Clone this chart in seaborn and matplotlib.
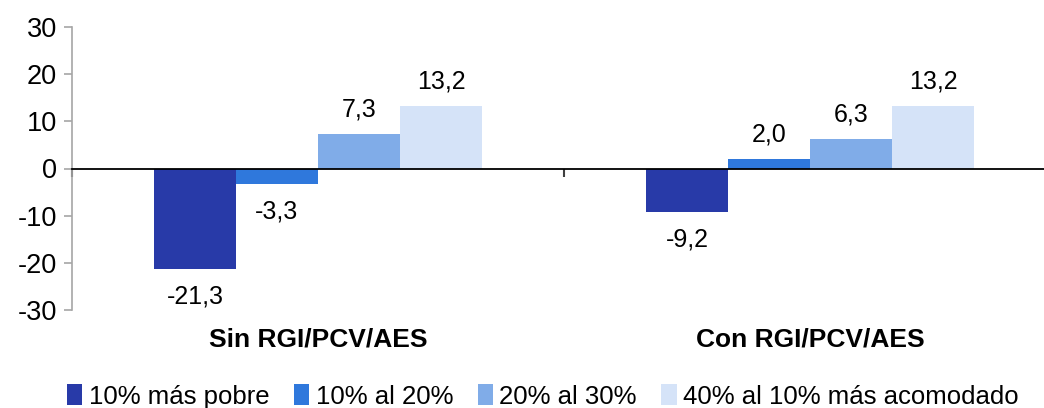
import matplotlib
matplotlib.use("Agg")
import matplotlib.pyplot as plt
import matplotlib.transforms as mtransforms
from matplotlib.patches import Patch
import seaborn as sns
import pandas as pd

categories = ["Sin RGI/PCV/AES", "Con RGI/PCV/AES"]
groups = ["10% más pobre", "10% al 20%", "20% al 30%", "40% al 10% más acomodado"]
values = {
    "10% más pobre": [-21.3, -9.2],
    "10% al 20%": [-3.3, 2.0],
    "20% al 30%": [7.3, 6.3],
    "40% al 10% más acomodado": [13.2, 13.2],
}
colors = ["#283AA8", "#2F78DC", "#80ACE8", "#D5E3F8"]
y_ticks = [-30, -20, -10, 0, 10, 20, 30]

rows = []
for g in groups:
    for c, v in zip(categories, values[g]):
        rows.append({"cat": c, "grupo": g, "valor": v})
df = pd.DataFrame(rows)

sns.set_style("white")
plt.rcParams["font.family"] = ["Liberation Sans", "DejaVu Sans"]
plt.rcParams["text.color"] = "black"
plt.rcParams["xtick.color"] = "black"
plt.rcParams["ytick.color"] = "black"

fig = plt.figure(figsize=(10.44, 4.08), dpi=100)
ax = fig.add_axes([72 / 1044, 1 - 310 / 408, 984 / 1044, 283 / 408])

sns.barplot(data=df, x="cat", y="valor", hue="grupo", hue_order=groups,
            order=categories, palette=colors, width=0.667, gap=0,
            saturation=1, errorbar=None, legend=False, ax=ax,
            edgecolor="none", linewidth=0)

ax.set_xlim(-0.5, 1.5)
ax.set_ylim(-30, 30)
ax.set_yticks(y_ticks)
ax.set_yticklabels([str(t) for t in y_ticks], fontsize=19.5, color="black")
ax.set_xlabel("")
ax.set_ylabel("")

# Axis styling: grey left spine, black baseline at zero
for s in ["top", "right"]:
    ax.spines[s].set_visible(False)
ax.spines["left"].set_color("#A6A6A6")
ax.spines["left"].set_linewidth(1.2)
ax.spines["bottom"].set_position(("data", 0))
ax.spines["bottom"].set_color("black")
ax.spines["bottom"].set_linewidth(1.3)
ax.tick_params(axis="y", direction="out", length=6, width=1.2, color="#A6A6A6",
               labelcolor="black", left=True, pad=5)
ax.set_xticks([-0.5, 0.5, 1.5])
ax.set_xticklabels([])
ax.tick_params(axis="x", direction="out", length=6, width=1.5, color="#404040",
               bottom=True)

# Category labels under the plot area
trans = mtransforms.blended_transform_factory(ax.transData, ax.transAxes)
for i, c in enumerate(categories):
    ax.text(i, -0.105, c, transform=trans, ha="center", va="center",
            fontsize=19, fontweight="bold", color="black")

# Value labels
for container in ax.containers:
    for bar in container:
        h = bar.get_height()
        x = bar.get_x() + bar.get_width() / 2
        label = f"{h:.1f}".replace(".", ",")
        if h >= 0:
            ax.annotate(label, (x, h), xytext=(0, 9), textcoords="offset points",
                        ha="center", va="bottom", fontsize=18, color="black")
        else:
            ax.annotate(label, (x, h), xytext=(0, -11), textcoords="offset points",
                        ha="center", va="top", fontsize=18, color="black")

handles = [Patch(facecolor=col, edgecolor="none") for col in colors]
fig.legend(handles, groups, loc="lower center", ncol=4, frameon=False,
           bbox_to_anchor=(0.52, -0.058), fontsize=18.5, handlelength=0.6,
           handleheight=0.85, handletextpad=0.25, columnspacing=0.95,
           labelcolor="black")

fig.savefig("out.png", dpi=100)
